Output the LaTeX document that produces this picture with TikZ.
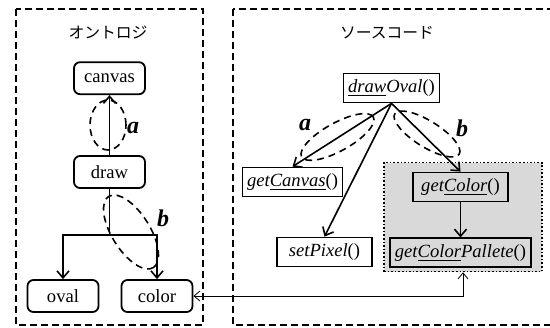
\documentclass[tikz,border=0pt]{standalone}
\usepackage{fontspec}
\setmainfont{Liberation Serif}
\newfontfamily\jpfont{Noto Sans CJK JP}
\usetikzlibrary{positioning, arrows.meta}
\definecolor{palGrey}{HTML}{D9D9D9}

\begin{document}
\begin{tikzpicture}[x=0.5pt, y=-0.5pt, font=\fontsize{9.3}{11}\selectfont,
    onto/.style={draw, line width=0.9pt, rounded corners=3pt, minimum width=35.5pt,
                 minimum height=16pt, inner sep=1pt},
    code/.style={draw, line width=0.9pt, minimum width=47.5pt, minimum height=14.5pt,
                 inner xsep=2.3pt, inner ysep=1pt},
    group/.style={line width=0.8pt, dash pattern=on 3.5pt off 2pt},
    hint/.style={line width=0.8pt, dash pattern=on 3.5pt off 2.5pt},
    link/.style={line width=0.8pt, -{Straight Barb[length=3.5pt, width=6pt]}},
    tag/.style={font=\fontsize{12}{14}\selectfont\bfseries\itshape},
    title/.style={font=\fontsize{7.9}{9}\selectfont\jpfont}]
  \useasboundingbox (0,0) rectangle (550,327);

  % frames
  \draw[group] (16,9) rectangle (203,325);
  \draw[group] (233,9) rectangle (556,325);
  \node[title] (ontoTitle) at (108,33) {オントロジ};
  \node[title] (codeTitle) at (387,33) {ソースコード};

  % ontology
  \node[onto] (dr) at (109.5,172) {draw};
  \node[onto, above=30pt of dr] (cv) {canvas};
  \node[onto] (ov) at (63,296) {oval};
  \node[onto] (col) at (157,296) {color};
  \coordinate (split) at (109.5,235);
  \draw[link] (dr) -- (cv);
  \draw[line width=0.8pt] (dr.south) -- (split);
  \draw[link] (split) -| (ov.north);
  \draw[link] (split) -| (col.north);

  % source code
  \node[draw, densely dotted, line width=0.8pt, fill=palGrey, minimum width=79pt,
        minimum height=54.5pt] (pal) at (463,217) {};
  \node[code] (dO) at (391.5,88) {\textit{\underline{draw}Oval}()};
  \node[code] (gCv) at (292.5,182) {\textit{get\underline{Canvas}}()};
  \node[code] (sP) at (324.5,252) {\textit{setPixel}()};
  \node[code, fill=palGrey] (gC) at (460.5,187) {\textit{get\underline{Color}}()};
  \node[code, fill=palGrey, below=17.5pt of gC] (gCP) {\textit{get\underline{Color}Pallete}()};
  \foreach \t in {gCv, sP, gC}
    \draw[link] (dO.south) -- (\t.north);
  \draw[link] (gC) -- (gCP);

  % correspondence
  \draw[thin, {Straight Barb[length=3pt, width=5pt]}-{Straight Barb[length=3pt, width=5pt]}]
    (col.east) -| (pal.south);

  % hints
  \draw[hint] (108,125) ellipse [x radius=9pt, y radius=12.5pt];
  \draw[hint, rotate around={-58:(131,232)}] (131,232) ellipse [x radius=21pt, y radius=9.5pt];
  \draw[hint, rotate around={29:(337.5,137)}] (337.5,137) ellipse [x radius=20.5pt, y radius=7pt];
  \draw[hint, rotate around={-32:(427,134)}] (427,134) ellipse [x radius=19pt, y radius=6.5pt];
  \node[tag] (la) at (133,128) {a};
  \node[tag] (lb) at (163,218) {b};
  \node[tag] (ra) at (305,125) {a};
  \node[tag] (rb) at (462,128) {b};
\end{tikzpicture}
\end{document}
